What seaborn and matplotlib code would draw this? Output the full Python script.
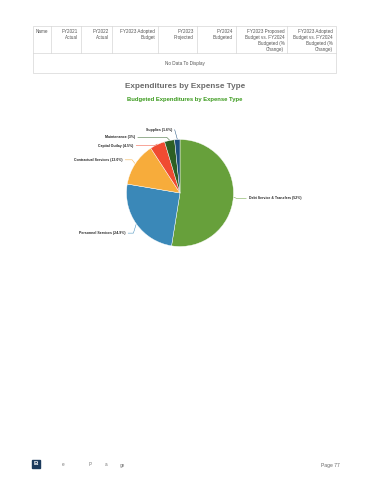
import matplotlib
matplotlib.use("Agg")
import matplotlib.pyplot as plt
import seaborn as sns
import numpy as np
from matplotlib.patches import Rectangle

# ---------------- data ----------------
categories = ["Debt Service & Transfers", "Personnel Services", "Contractual Services",
              "Capital Outlay", "Maintenance", "Supplies"]
shares = [52.0, 24.9, 13.0, 4.5, 3.0, 1.6]
share_labels = ["52%", "24.9%", "13.0%", "4.5%", "3%", "1.6%"]
slice_colors = ["#67a03b", "#3a88b8", "#f7ac3b", "#f04b31", "#2e5f24", "#1e4f7c"]

table_headers = ["Name", "FY2021\nActual", "FY2022\nActual", "FY2023 Adopted\nBudget",
                 "FY2023\nProjected", "FY2024\nBudgeted",
                 "FY2023 Proposed\nBudget vs. FY2024\nBudgeted (%\nChange)",
                 "FY2023 Adopted\nBudget vs. FY2024\nBudgeted (%\nChange)"]
empty_message = "No Data To Display"
chart_title = "Expenditures by Expense Type"
chart_subtitle = "Budgeted Expenditures by Expense Type"
page_label = "Page 77"

# ---------------- style ----------------
sns.set_theme(style="white")
plt.rcParams["font.family"] = ["Liberation Sans", "DejaVu Sans"]

W, H = 370, 480
fig = plt.figure(figsize=(W / 100, H / 100), dpi=100)
fig.patch.set_facecolor("white")

# overlay axes in pixel coordinates (y from top)
ov = fig.add_axes([0, 0, 1, 1])
ov.set_xlim(0, W)
ov.set_ylim(H, 0)
ov.axis("off")

# ---------------- table ----------------
tl, tr, ttop, thead, tbot = 33, 336, 26, 53, 73
col_edges = [tl, 50.7, 80.7, 111.7, 158.3, 196.7, 236, 287.3, tr]
border = "#d6d6d6"
ov.add_patch(Rectangle((tl, ttop), tr - tl, tbot - ttop, fill=False, ec=border, lw=0.5))
ov.plot([tl, tr], [thead, thead], color=border, lw=0.5)
for x in col_edges[1:-1]:
    ov.plot([x, x], [ttop, thead], color=border, lw=0.5)
for i, hdr in enumerate(table_headers):
    if i == 0:
        ov.text(col_edges[0] + 3, ttop + 3, hdr, ha="left", va="top", fontsize=3.3,
                color="#555555", linespacing=1.25)
    else:
        ov.text(col_edges[i + 1] - 3, ttop + 3, hdr, ha="right", va="top", fontsize=3.3,
                color="#555555", linespacing=1.25)
ov.text((tl + tr) / 2, (thead + tbot) / 2, empty_message, ha="center", va="center",
        fontsize=3.3, color="#555555")

# ---------------- titles ----------------
ov.text(185, 86, chart_title, ha="center", va="center", fontsize=5.9,
        fontweight="bold", color="#6b6b6b")
ov.text(185, 100, chart_subtitle, ha="center", va="center", fontsize=4.2,
        fontweight="bold", color="#3a9a1c")

# ---------------- pie ----------------
cx, cy, R = 180, 193, 53.5
half = 150
ax = fig.add_axes([(cx - half) / W, (H - cy - half) / H, 2 * half / W, 2 * half / H])
palette = sns.color_palette(slice_colors)
wedges, _ = ax.pie(shares, colors=palette, startangle=90, counterclock=False,
                   radius=1.0, wedgeprops=dict(edgecolor="white", linewidth=0.3))
lim = half / R
ax.set_xlim(-lim, lim)
ax.set_ylim(-lim, lim)
ax.set_aspect("equal")
ax.axis("off")

# label anchor layout (data units, relative to the pie radius)
label_anchors = [(1.29, -0.10), (-1.02, -0.75), (-1.075, 0.62),
                 (-0.87, 0.885), (-0.84, 1.04), (-0.15, 1.185)]
total = sum(shares)
cum = 0.0
for i, (cat, val, lab) in enumerate(zip(categories, shares, share_labels)):
    mid = (cum + val / 2) / total * 2 * np.pi
    cum += val
    ex, ey = np.sin(mid) * 1.01, np.cos(mid) * 1.01
    axx, ayy = label_anchors[i]
    text = f"{cat} ({lab})"
    if axx >= 0:
        start = axx - 0.05
        elbow = max(ex + 0.05, start - 0.2)
        ax.plot([start, elbow, ex], [ayy, ayy, ey], color=slice_colors[i], lw=0.35)
        ax.text(axx, ayy, text, ha="left", va="center", fontsize=2.5,
                fontweight="bold", color="#222222")
    else:
        start = axx + 0.05
        elbow = min(ex - 0.05, start + 10)
        elbow = max(elbow, start)
        ax.plot([start, elbow, ex], [ayy, ayy, ey], color=slice_colors[i], lw=0.35)
        ax.text(axx, ayy, text, ha="right", va="center", fontsize=2.5,
                fontweight="bold", color="#222222")

# ---------------- footer ----------------
ov.add_patch(Rectangle((32, 459.5), 8, 8.5, color="#1b3a5c"))
ov.text(36, 463.8, "B", ha="center", va="center", fontsize=4.5, fontweight="bold",
        color="white")
for x, s in [(63, "e"), (90, "P"), (106, "a"), (122, "ge")]:
    ov.text(x, 465, s, ha="center", va="center", fontsize=3.3, color="#777777")
ov.text(340, 465, page_label, ha="right", va="center", fontsize=3.6, color="#666666")

fig.savefig("out.png", dpi=100, facecolor="white")
